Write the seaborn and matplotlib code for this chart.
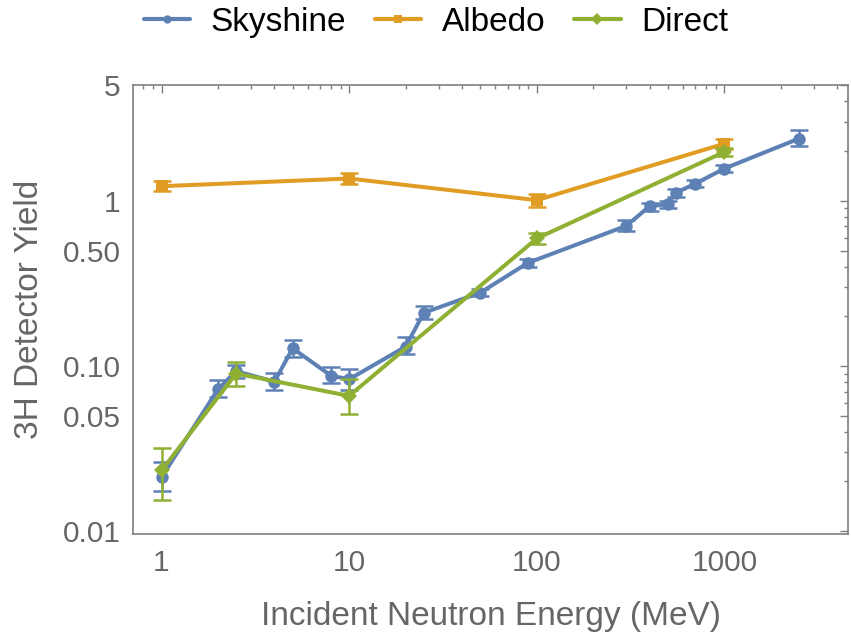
import numpy as np
import pandas as pd
import seaborn as sns
import matplotlib
matplotlib.use("Agg")
import matplotlib.pyplot as plt
from matplotlib.lines import Line2D
from matplotlib.ticker import FixedLocator, FixedFormatter, LogLocator, NullFormatter

# Tritium (3H) detector yield vs incident neutron energy, three source geometries
sky_energy = [1, 2, 2.5, 4, 5, 8, 10, 20, 25, 50, 90, 300, 400, 500, 550, 700, 1000, 2500]
sky_yield = [0.0212, 0.0723, 0.093, 0.0804, 0.128, 0.0874, 0.0831, 0.131, 0.210, 0.278,
             0.422, 0.706, 0.929, 0.955, 1.12, 1.27, 1.57, 2.385]
sky_low = [0.0176, 0.0647, 0.085, 0.0716, 0.114, 0.079, 0.0716, 0.118, 0.192, 0.265,
           0.40, 0.657, 0.87, 0.91, 1.06, 1.21, 1.50, 2.14]
sky_high = [0.0261, 0.0822, 0.102, 0.0903, 0.1436, 0.099, 0.0955, 0.149, 0.231, 0.292,
            0.445, 0.762, 0.97, 1.0, 1.18, 1.33, 1.64, 2.70]

albedo_energy = [1, 10, 100, 1000]
albedo_yield = [1.227, 1.366, 1.01, 2.22]
albedo_low = [1.15, 1.27, 0.92, 2.05]
albedo_high = [1.32, 1.47, 1.10, 2.38]

direct_energy = [1, 2.5, 10, 100, 1000]
direct_yield = [0.0233, 0.090, 0.0659, 0.592, 1.98]
direct_low = [0.0155, 0.076, 0.051, 0.547, 1.88]
direct_high = [0.032, 0.106, 0.083, 0.64, 2.08]

series_names = ["Skyshine", "Albedo", "Direct"]
series_colors = ["#5E81B5", "#E19C24", "#8FB032"]
series_markers = ["o", "s", "D"]
series_sizes = [9, 9, 8.5]

y_major = [0.01, 0.05, 0.1, 0.5, 1, 5]
y_major_labels = ["0.01", "0.05", "0.10", "0.50", "1", "5"]
y_minor = [0.02, 0.03, 0.04, 0.06, 0.07, 0.08, 0.09,
           0.2, 0.3, 0.4, 0.6, 0.7, 0.8, 0.9, 2, 3, 4]
x_major = [1, 10, 100, 1000]
x_major_labels = ["1", "10", "100", "1000"]

sns.set_theme(style="white")
plt.rcParams["font.family"] = ["Liberation Sans", "DejaVu Sans"]

frames = []
for name, e, y, lo, hi in [
    ("Skyshine", sky_energy, sky_yield, sky_low, sky_high),
    ("Albedo", albedo_energy, albedo_yield, albedo_low, albedo_high),
    ("Direct", direct_energy, direct_yield, direct_low, direct_high),
]:
    frames.append(pd.DataFrame({"series": name, "energy": e, "yield": y,
                                "low": lo, "high": hi}))
data = pd.concat(frames, ignore_index=True)

fig = plt.figure(figsize=(8.51, 6.35), dpi=100)
ax = fig.add_axes([0.1566, 0.159, 0.8399, 0.7064])
ax.set_xscale("log")
ax.set_yscale("log")

for i, (name, color, marker, ms) in enumerate(zip(series_names, series_colors,
                                                  series_markers, series_sizes)):
    d = data[data["series"] == name]
    ax.errorbar(d["energy"], d["yield"],
                yerr=[d["yield"] - d["low"], d["high"] - d["yield"]],
                fmt="none", ecolor=color, elinewidth=1.8, capsize=6.5,
                capthick=1.8, zorder=2 + 2 * i)
    sns.lineplot(data=d, x="energy", y="yield", ax=ax, color=color,
                 marker=marker, markersize=ms, markeredgewidth=0,
                 linewidth=2.9, sort=False, estimator=None, legend=False,
                 zorder=3 + 2 * i)

ax.set_xlim(0.707, 4560)
ax.set_ylim(0.0096, 5.0)

ax.xaxis.set_major_locator(FixedLocator(x_major))
ax.xaxis.set_major_formatter(FixedFormatter(x_major_labels))
ax.xaxis.set_minor_locator(LogLocator(base=10, subs=np.arange(2, 10)))
ax.xaxis.set_minor_formatter(NullFormatter())
ax.yaxis.set_major_locator(FixedLocator(y_major))
ax.yaxis.set_major_formatter(FixedFormatter(y_major_labels))
ax.yaxis.set_minor_locator(FixedLocator(y_minor))
ax.yaxis.set_minor_formatter(NullFormatter())

frame_gray = "#7f7f7f"
label_gray = "#666666"
for spine in ax.spines.values():
    spine.set_color(frame_gray)
    spine.set_linewidth(1.2)

ax.tick_params(which="both", direction="in", top=True, right=True,
               color=frame_gray, width=1.0, labelcolor=label_gray,
               labelsize=21.5)
ax.tick_params(which="major", length=5.5)
ax.tick_params(which="minor", length=3.2)
ax.tick_params(axis="x", which="major", pad=11)
ax.tick_params(axis="y", which="major", pad=9)

ax.set_xlabel("Incident Neutron Energy (MeV)", fontsize=24, color=label_gray,
              labelpad=17)
ax.set_ylabel("3H Detector Yield", fontsize=24, color=label_gray, labelpad=13)

handles = [Line2D([], [], color=c, marker=m, markersize=6, markeredgewidth=0,
                  linewidth=3)
           for c, m in zip(series_colors, series_markers)]
fig.legend(handles, series_names, loc="center", bbox_to_anchor=(0.512, 0.965),
           ncol=3, frameon=False, fontsize=24, handlelength=1.4,
           handletextpad=0.6, columnspacing=0.87, labelcolor="black")

fig.savefig("out.png", dpi=100, facecolor="white")
